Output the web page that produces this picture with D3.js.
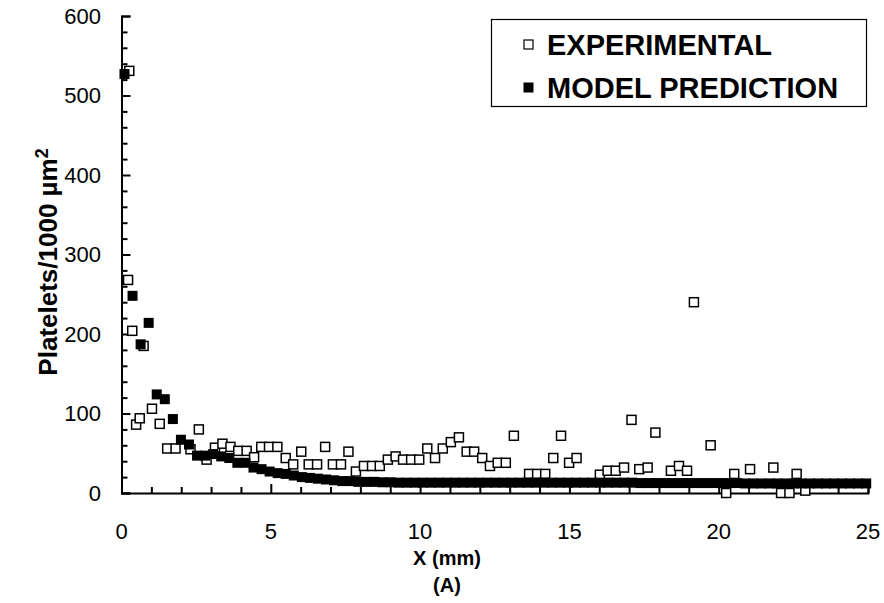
<!DOCTYPE html>
<html>
<head>
<meta charset="utf-8">
<script src="https://cdn.jsdelivr.net/npm/d3@7/dist/d3.min.js"></script>
<style>
  body { margin: 0; background: #fff; }
  svg { display: block; }
  text { font-family: "Liberation Sans", Arial, sans-serif; fill: #000; }
</style>
</head>
<body>
<svg id="chart" width="884" height="603"></svg>
<script>
// ---- data ----
const expX = [0.22,0.26,0.36,0.49,0.61,0.74,1.02,1.28,1.53,1.81,2.31,2.59,2.85,3.13,3.38,3.65,3.91,4.19,4.44,4.68,4.94,5.22,5.50,5.75,6.02,6.27,6.55,6.82,7.08,7.35,7.60,7.85,8.12,8.39,8.65,8.92,9.18,9.43,9.70,9.97,10.24,10.50,10.76,11.03,11.30,11.56,11.81,12.08,12.34,12.60,12.87,13.14,13.65,13.92,14.19,14.46,14.72,14.99,15.24,16.02,16.28,16.55,16.83,17.08,17.34,17.62,17.88,18.40,18.67,18.94,19.17,19.73,20.25,20.52,21.05,21.83,22.09,22.37,22.61,22.90];
const expY = [268,531,204,86,94,185,106,87,56,56,55,80,42,57,62,58,53,53,45,58,58,58,44,36,52,36,36,58,36,36,52,27,34,34,34,42,46,42,42,42,56,44,56,64,70,52,52,44,34,38,38,72,24,24,24,44,72,38,44,23,28,28,32,92,30,32,76,28,34,28,240,60,0,24,30,32,0,0,24,3];

const modelX = [0.10,0.37,0.64,0.91,1.18,1.45,1.72,1.99,2.26,2.53,2.80,3.07,3.34,3.61,3.88,4.15,4.42,4.69,4.96,5.23,5.50,5.77,6.04,6.31,6.58,6.85,7.12,7.39,7.66,7.93,8.20,8.47,8.74,9.01,9.28,9.55,9.82,10.09,10.36,10.63,10.90,11.17,11.44,11.71,11.98,12.25,12.52,12.79,13.06,13.33,13.60,13.87,14.14,14.41,14.68,14.95,15.22,15.49,15.76,16.03,16.30,16.57,16.84,17.11,17.38,17.65,17.92,18.19,18.46,18.73,19.00,19.27,19.54,19.81,20.08,20.35,20.62,20.89,21.16,21.43,21.70,21.97,22.24,22.51,22.78,23.05,23.32,23.59,23.86,24.13,24.40,24.67,24.94];
const modelY = [527,248,187,214,124,118,93,67,61,47,47,49,46,44,38,38,32,30,27,25,24,22,20,19,18,17,16,15,15,14,14,14,13.5,13.5,13,13,13,13,13,13,13,13,13,13,13,13,13,13,13,13,13,13,13,13,13,13,13,13,13,13,13,13,13,13,12.5,12.5,12.5,12.5,12.5,12.5,12.5,12.5,12.5,12.5,12.5,12.5,12.5,12,12,12,12,12,12,12,12,12,12,12,12,12,12,12,12];

const xMajorTicks = [0,5,10,15,20,25];
const xMinorTicks = [1,2,3,4,6,7,8,9,11,12,13,14,16,17,18,19,21,22,23,24];
const yMajorTicks = [0,100,200,300,400,500,600];
const yMinorTicks = [20,40,60,80,120,140,160,180,220,240,260,280,320,340,360,380,420,440,460,480,520,540,560,580];

const seriesNames = ["EXPERIMENTAL", "MODEL PREDICTION"];

// ---- layout ----
const X0 = 121.5, X1 = 868, Y0 = 493, Y1 = 16;
const svg = d3.select("#chart");
const x = d3.scaleLinear().domain([0, 25]).range([X0, X1]);
const y = d3.scaleLinear().domain([0, 600]).range([Y0, Y1]);

// axes: ticks inward
const gx = svg.append("g").attr("transform", `translate(0,${Y0})`);
gx.call(d3.axisBottom(x).tickValues(xMajorTicks).tickSize(-9).tickFormat(""));
gx.append("g").call(d3.axisBottom(x).tickValues(xMinorTicks).tickSize(-6).tickFormat(""));
gx.selectAll("path.domain").attr("stroke", "#000").attr("stroke-width", 2);
gx.selectAll(".tick line").attr("stroke", "#000").attr("stroke-width", 2);
gx.selectAll("g > g > path.domain").remove();

const gy = svg.append("g").attr("transform", `translate(${X0},0)`);
gy.call(d3.axisLeft(y).tickValues(yMajorTicks).tickSize(-9).tickFormat(""));
gy.append("g").call(d3.axisLeft(y).tickValues(yMinorTicks).tickSize(-6).tickFormat(""));
gy.selectAll("path.domain").attr("stroke", "#000").attr("stroke-width", 2);
gy.selectAll(".tick line").attr("stroke", "#000").attr("stroke-width", 2);
gy.selectAll("g > g > path.domain").remove();

// tick labels
svg.append("g").selectAll("text").data(yMajorTicks).join("text")
  .attr("x", 101).attr("y", d => y(d)).attr("dy", "0.36em")
  .attr("text-anchor", "end").style("font-size", "22px").text(d => d);
svg.append("g").selectAll("text").data(xMajorTicks).join("text")
  .attr("x", d => x(d)).attr("y", 539)
  .attr("text-anchor", "middle").style("font-size", "22px").text(d => d);

// axis titles
const TX = 447;
svg.append("text").attr("x", TX).attr("y", 565)
  .attr("text-anchor", "middle").style("font-size", "20px").style("font-weight", "bold").text("X (mm)");
svg.append("text").attr("x", TX).attr("y", 592)
  .attr("text-anchor", "middle").style("font-size", "20px").style("font-weight", "bold").text("(A)");
const yl = svg.append("text").attr("transform", "translate(57,262) rotate(-90)")
  .attr("text-anchor", "middle").style("font-size", "26px").style("font-weight", "bold");
yl.append("tspan").text("Platelets/1000 µm");
yl.append("tspan").attr("dy", "-0.5em").style("font-size", "18px").text("2");

// points
const S = 9;
const expData = expX.map((d, i) => ({x: d, y: expY[i]}));
const modData = modelX.map((d, i) => ({x: d, y: modelY[i]}));
svg.append("g").selectAll("rect").data(expData).join("rect")
  .attr("x", d => x(d.x) - S / 2).attr("y", d => y(d.y) - S / 2)
  .attr("width", S).attr("height", S)
  .attr("fill", "#fff").attr("stroke", "#000").attr("stroke-width", 1.5);
svg.append("g").selectAll("rect").data(modData).join("rect")
  .attr("x", d => x(d.x) - S / 2 - 0.5).attr("y", d => y(d.y) - S / 2 - 0.5)
  .attr("width", S + 1).attr("height", S + 1)
  .attr("fill", "#000");

// legend
const lg = svg.append("g");
lg.append("rect").attr("x", 491.5).attr("y", 19.5).attr("width", 375).attr("height", 87)
  .attr("fill", "#fff").attr("stroke", "#000").attr("stroke-width", 1.2);
lg.append("rect").attr("x", 524).attr("y", 40).attr("width", 9).attr("height", 9)
  .attr("fill", "#fff").attr("stroke", "#000").attr("stroke-width", 1.2);
lg.append("rect").attr("x", 523.5).attr("y", 82.5).attr("width", 10).attr("height", 10)
  .attr("fill", "#000");
lg.selectAll("text").data(seriesNames).join("text")
  .attr("x", 547).attr("y", (d, i) => 55 + i * 43)
  .style("font-size", "29px").style("font-weight", "bold").text(d => d);
</script>
</body>
</html>
